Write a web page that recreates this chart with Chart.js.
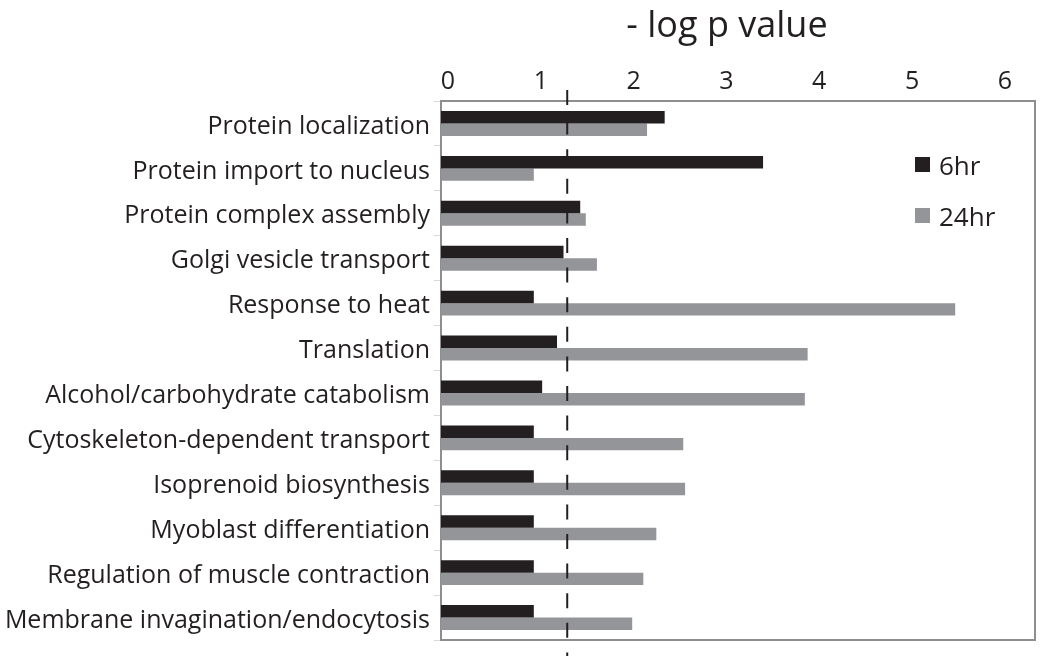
<!DOCTYPE html>
<html><head><meta charset="utf-8">
<script src="https://cdn.jsdelivr.net/npm/chart.js@4.4.0/dist/chart.umd.min.js"></script>
<style>html,body{margin:0;padding:0;background:#fff}</style>
</head><body>
<canvas id="c" width="1050" height="662"></canvas>
<script>
const categories = [
  'Protein localization',
  'Protein import to nucleus',
  'Protein complex assembly',
  'Golgi vesicle transport',
  'Response to heat',
  'Translation',
  'Alcohol/carbohydrate catabolism',
  'Cytoskeleton-dependent transport',
  'Isoprenoid biosynthesis',
  'Myoblast differentiation',
  'Regulation of muscle contraction',
  'Membrane invagination/endocytosis'
];
const series6hr  = [2.41, 3.47, 1.50, 1.32, 1.00, 1.25, 1.09, 1.00, 1.00, 1.00, 1.00, 1.00];
const series24hr = [2.22, 1.00, 1.56, 1.68, 5.54, 3.95, 3.92, 2.61, 2.63, 2.32, 2.18, 2.06];
const seriesNames = ['6hr', '24hr'];
const xTickValues = [0, 1, 2, 3, 4, 5, 6];
const thresholdValue = 1.36;
const titleText = '- log p value';

const FONT = "'Open Sans', 'Noto Sans', sans-serif";
const TXT = '#231f20';

const framePlugin = {
  id: 'frame',
  beforeDatasetsDraw(chart) {
    const a = chart.chartArea, ctx = chart.ctx;
    ctx.save();
    ctx.strokeStyle = '#8e8e8e';
    ctx.lineWidth = 2;
    ctx.strokeRect(a.left, a.top, a.right - a.left, a.bottom - a.top);
    ctx.restore();
  }
};

const thresholdPlugin = {
  id: 'threshold',
  afterDatasetsDraw(chart) {
    const a = chart.chartArea, ctx = chart.ctx;
    const x = chart.scales.x.getPixelForValue(thresholdValue);
    ctx.save();
    ctx.strokeStyle = TXT;
    ctx.lineWidth = 2;
    ctx.setLineDash([15, 14.6]);
    ctx.beginPath();
    ctx.moveTo(x, a.top - 11);
    ctx.lineTo(x, a.bottom + 16);
    ctx.stroke();
    ctx.restore();
  }
};

const legendTitlePlugin = {
  id: 'legendTitle',
  afterDraw(chart) {
    const a = chart.chartArea, ctx = chart.ctx;
    ctx.save();
    ctx.fillStyle = TXT;
    ctx.font = "36px " + FONT;
    ctx.textAlign = 'center';
    ctx.textBaseline = 'middle';
    ctx.fillText(titleText, (a.left + a.right) / 2 - 11, 27);
    ctx.font = "26px " + FONT;
    ctx.textAlign = 'left';
    chart.data.datasets.forEach((ds, i) => {
      const y = a.top + 56 + i * 51;
      const x = a.right - 120;
      ctx.fillStyle = ds.backgroundColor;
      ctx.fillRect(x, y, 15, 15);
      ctx.fillStyle = TXT;
      ctx.fillText(ds.label, x + 24, y + 11);
    });
    ctx.restore();
  }
};

new Chart(document.getElementById('c'), {
  type: 'bar',
  data: {
    labels: categories,
    datasets: [
      { label: seriesNames[0], data: series6hr, backgroundColor: '#231f20',
        categoryPercentage: 0.555, barPercentage: 1.0 },
      { label: seriesNames[1], data: series24hr, backgroundColor: '#939598',
        categoryPercentage: 0.555, barPercentage: 1.0 }
    ]
  },
  options: {
    indexAxis: 'y',
    responsive: false,
    animation: false,
    layout: { padding: { left: 0, right: 15, top: 0, bottom: 22 } },
    plugins: { legend: { display: false }, tooltip: { enabled: false }, title: { display: false } },
    scales: {
      x: {
        position: 'top',
        min: 0, max: 6.4,
        afterBuildTicks(scale) { scale.ticks = xTickValues.map(v => ({ value: v })); },
        afterFit(scale) { scale.height = 101; },
        grid: { display: false },
        border: { display: false },
        ticks: {
          autoSkip: false, maxRotation: 0, includeBounds: false,
          labelOffset: 7, padding: -4,
          color: TXT, font: { family: FONT, size: 25 }
        }
      },
      y: {
        afterFit(scale) { scale.width = 441; },
        grid: { offset: true, drawOnChartArea: false, drawTicks: true, tickLength: 7, color: '#d9d9d9', lineWidth: 1 },
        border: { display: false },
        ticks: { autoSkip: false, padding: 4, labelOffset: 3, color: TXT, font: { family: FONT, size: 25 } }
      }
    }
  },
  plugins: [framePlugin, thresholdPlugin, legendTitlePlugin]
});
</script>
</body></html>
